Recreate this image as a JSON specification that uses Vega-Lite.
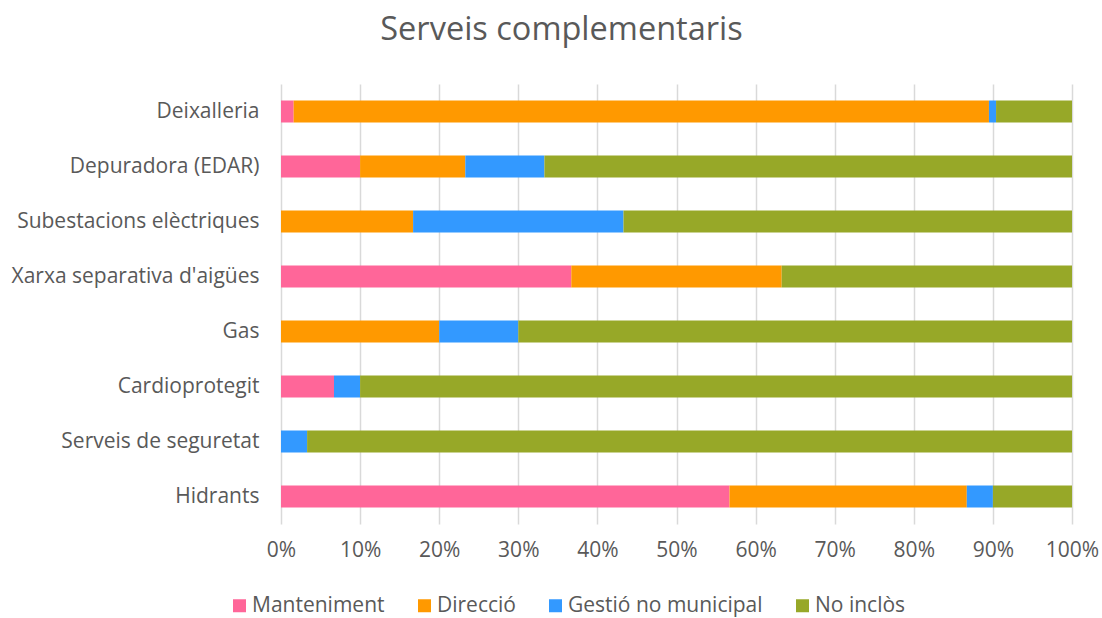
{
  "$schema": "https://vega.github.io/schema/vega-lite/v6.json",
  "autosize": {"type": "none"},
  "width": 791,
  "height": 440,
  "padding": {"left": 281, "top": 84, "right": 30, "bottom": 94},
  "background": "white",
  "title": {
    "text": "Serveis complementaris",
    "font": "Open Sans",
    "fontSize": 32.5,
    "fontWeight": "normal",
    "color": "#595959",
    "anchor": "middle",
    "dx": -115,
    "offset": 38
  },
  "config": {
    "view": {"stroke": null},
    "axis": {"labelFont": "Open Sans", "labelFontSize": 21, "labelColor": "#595959", "labelLimit": 400}
  },
  "data": {
    "values": [
      {"category": "Deixalleria", "serie": "Manteniment", "o": 1, "value": 0.016},
      {"category": "Deixalleria", "serie": "Direcció", "o": 2, "value": 0.879},
      {"category": "Deixalleria", "serie": "Gestió no municipal", "o": 3, "value": 0.009},
      {"category": "Deixalleria", "serie": "No inclòs", "o": 4, "value": 0.096},
      {"category": "Depuradora (EDAR)", "serie": "Manteniment", "o": 1, "value": 0.1},
      {"category": "Depuradora (EDAR)", "serie": "Direcció", "o": 2, "value": 0.133},
      {"category": "Depuradora (EDAR)", "serie": "Gestió no municipal", "o": 3, "value": 0.1},
      {"category": "Depuradora (EDAR)", "serie": "No inclòs", "o": 4, "value": 0.667},
      {"category": "Subestacions elèctriques", "serie": "Direcció", "o": 2, "value": 0.167},
      {"category": "Subestacions elèctriques", "serie": "Gestió no municipal", "o": 3, "value": 0.266},
      {"category": "Subestacions elèctriques", "serie": "No inclòs", "o": 4, "value": 0.567},
      {"category": "Xarxa separativa d'aigües", "serie": "Manteniment", "o": 1, "value": 0.367},
      {"category": "Xarxa separativa d'aigües", "serie": "Direcció", "o": 2, "value": 0.266},
      {"category": "Xarxa separativa d'aigües", "serie": "No inclòs", "o": 4, "value": 0.367},
      {"category": "Gas", "serie": "Direcció", "o": 2, "value": 0.2},
      {"category": "Gas", "serie": "Gestió no municipal", "o": 3, "value": 0.1},
      {"category": "Gas", "serie": "No inclòs", "o": 4, "value": 0.7},
      {"category": "Cardioprotegit", "serie": "Manteniment", "o": 1, "value": 0.067},
      {"category": "Cardioprotegit", "serie": "Gestió no municipal", "o": 3, "value": 0.033},
      {"category": "Cardioprotegit", "serie": "No inclòs", "o": 4, "value": 0.9},
      {"category": "Serveis de seguretat", "serie": "Gestió no municipal", "o": 3, "value": 0.033},
      {"category": "Serveis de seguretat", "serie": "No inclòs", "o": 4, "value": 0.967},
      {"category": "Hidrants", "serie": "Manteniment", "o": 1, "value": 0.567},
      {"category": "Hidrants", "serie": "Direcció", "o": 2, "value": 0.3},
      {"category": "Hidrants", "serie": "Gestió no municipal", "o": 3, "value": 0.033},
      {"category": "Hidrants", "serie": "No inclòs", "o": 4, "value": 0.1}
    ]
  },
  "mark": {"type": "bar"},
  "encoding": {
    "y": {
      "field": "category",
      "type": "nominal",
      "sort": ["Deixalleria", "Depuradora (EDAR)", "Subestacions elèctriques", "Xarxa separativa d'aigües", "Gas", "Cardioprotegit", "Serveis de seguretat", "Hidrants"],
      "scale": {"paddingInner": 0.6, "paddingOuter": 0.3},
      "axis": {"title": null, "ticks": false, "domain": false, "labelPadding": 22, "grid": false}
    },
    "x": {
      "field": "value",
      "type": "quantitative",
      "stack": "zero",
      "scale": {"domain": [0, 1], "nice": false},
      "axis": {
        "title": null,
        "format": ".0%",
        "values": [0, 0.1, 0.2, 0.3, 0.4, 0.5, 0.6, 0.7, 0.8, 0.9, 1],
        "ticks": false,
        "domain": false,
        "grid": true,
        "gridColor": "#d9d9d9",
        "gridWidth": 1.5,
        "labelPadding": 15,
        "labelFlush": false
      }
    },
    "color": {
      "field": "serie",
      "type": "nominal",
      "scale": {
        "domain": ["Manteniment", "Direcció", "Gestió no municipal", "No inclòs"],
        "range": ["#FF6699", "#FF9900", "#3399FF", "#97A828"]
      },
      "legend": {
        "title": null,
        "orient": "none",
        "direction": "horizontal",
        "legendX": -52,
        "legendY": 511,
        "symbolType": "square",
        "symbolSize": 169,
        "symbolStrokeWidth": 0,
        "labelFont": "Open Sans",
        "labelFontSize": 21,
        "labelColor": "#595959",
        "labelOffset": 2,
        "labelLimit": 400,
        "columnPadding": 29
      }
    },
    "order": {"field": "o", "type": "quantitative"}
  }
}
